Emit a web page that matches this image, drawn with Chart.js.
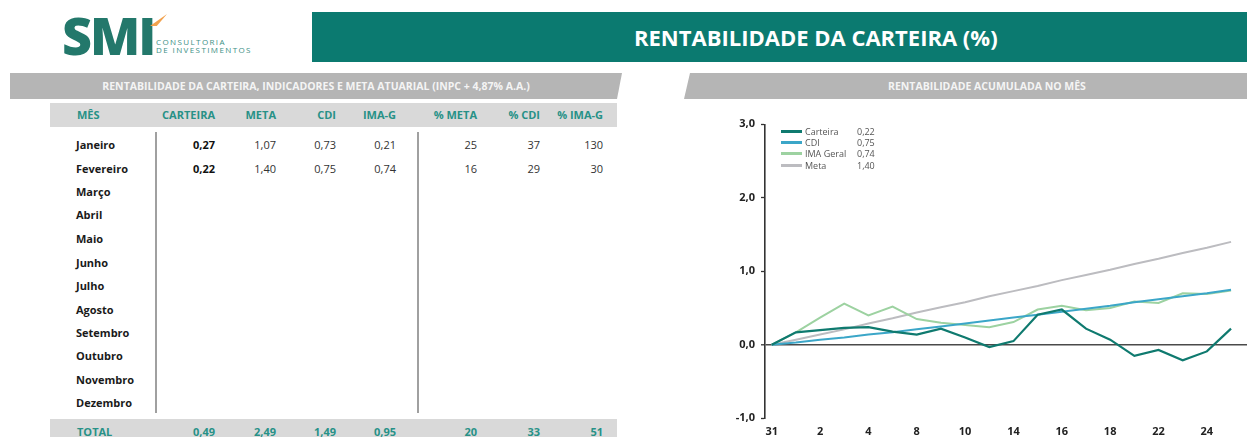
<!DOCTYPE html>
<html><head><meta charset="utf-8">
<script src="https://cdn.jsdelivr.net/npm/chart.js@4/dist/chart.umd.min.js"></script>
<style>
html,body{margin:0;padding:0;width:1247px;height:437px;overflow:hidden;background:#fff;font-family:"Open Sans",sans-serif;}
.a{position:absolute;white-space:nowrap;}
.band{background:#b5b5b5;color:#f4f4f4;font-weight:700;font-size:10.5px;}
.th{color:#279187;font-weight:700;font-size:11px;line-height:14px;}
.mo{color:#1a1a1a;font-weight:700;font-size:11px;line-height:14px;}
.v{color:#333;font-size:11px;line-height:14px;text-align:right;}
.tot{color:#279187;font-weight:700;font-size:11px;line-height:14px;}
.lg{font-size:9px;color:#555;line-height:11px;}
</style></head><body>
<!-- logo -->
<div class="a" style="left:62px;top:9px;font-size:52px;line-height:52px;font-weight:800;color:#23786b;letter-spacing:-2px;">SMI</div>
<div class="a" style="left:150px;top:14px;width:17px;height:12px;background:#f2a24e;clip-path:polygon(0 100%,100% 0,40% 100%);"></div>
<div class="a" style="left:156px;top:37px;font-size:8px;line-height:10px;color:#3d8f86;letter-spacing:1.4px;">CONSULTORIA</div>
<div class="a" style="left:156px;top:45px;font-size:8px;line-height:10px;color:#3d8f86;letter-spacing:1.4px;">DE INVESTIMENTOS</div>
<!-- title bar -->
<div class="a" style="left:312px;top:12px;width:935px;height:50px;background:#0b7a70;"></div>
<div class="a" style="left:634px;top:21px;font-size:22px;line-height:32px;font-weight:700;color:#fff;">RENTABILIDADE DA CARTEIRA (%)</div>
<!-- section bands -->
<div class="a band" style="left:10px;top:73px;width:612px;height:26px;clip-path:polygon(0 0,100% 0,calc(100% - 5px) 100%,0 100%);"></div>
<div class="a band" style="left:10px;top:73px;width:612px;line-height:26px;text-align:center;background:none;">RENTABILIDADE DA CARTEIRA, INDICADORES E META ATUARIAL (INPC + 4,87% A.A.)</div>
<div class="a band" style="left:684px;top:73px;width:563px;height:26px;clip-path:polygon(6px 0,100% 0,100% 100%,0 100%);"></div>
<div class="a band" style="left:888px;top:73px;line-height:26px;background:none;">RENTABILIDADE ACUMULADA NO MÊS</div>
<!-- table -->
<div class="a" style="left:50px;top:103px;width:567px;height:24px;background:#d9d9d9;"></div>
<div class="a" style="left:50px;top:419px;width:567px;height:22px;background:#d9d9d9;"></div>
<div class="a" style="left:155px;top:132px;width:1.5px;height:281px;background:#a0a0a0;"></div>
<div class="a" style="left:417px;top:132px;width:1.5px;height:281px;background:#a0a0a0;"></div>
<div id="tbl"></div>
<!-- chart -->
<div class="a" style="left:720px;top:100px;width:527px;height:337px;">
<canvas id="c" width="527" height="337" style="width:527px;height:337px;"></canvas>
</div>
<div id="leg"></div>
<script>
// ---- table data ----
const months = ['Janeiro','Fevereiro','Março','Abril','Maio','Junho','Julho','Agosto','Setembro','Outubro','Novembro','Dezembro'];
const colHeaders = ['CARTEIRA','META','CDI','IMA-G','% META','% CDI','% IMA-G'];
const tCarteira = [0.27, 0.22];
const tMeta = [1.07, 1.40];
const tCdi = [0.73, 0.75];
const tImaG = [0.21, 0.74];
const tPctMeta = [25, 16];
const tPctCdi = [37, 29];
const tPctImaG = [130, 30];
const totals = [0.49, 2.49, 1.49, 0.95, 20, 33, 51];

// ---- chart data ----
const days = ['31','1','2','3','4','7','8','9','10','11','14','15','16','17','18','21','22','23','24','25'];
const carteiraAcum = [0, 0.17, 0.20, 0.23, 0.24, 0.18, 0.14, 0.22, 0.10, -0.03, 0.05, 0.41, 0.48, 0.22, 0.07, -0.15, -0.07, -0.21, -0.09, 0.22];
const cdiAcum = [0, 0.03, 0.07, 0.10, 0.14, 0.17, 0.21, 0.25, 0.29, 0.33, 0.37, 0.41, 0.45, 0.49, 0.53, 0.58, 0.62, 0.66, 0.70, 0.75];
const imaAcum = [0, 0.17, 0.37, 0.56, 0.40, 0.52, 0.35, 0.30, 0.27, 0.24, 0.31, 0.48, 0.53, 0.47, 0.50, 0.59, 0.57, 0.70, 0.69, 0.74];
const metaAcum = [0, 0.07, 0.14, 0.21, 0.29, 0.36, 0.44, 0.51, 0.58, 0.66, 0.73, 0.80, 0.88, 0.95, 1.02, 1.10, 1.17, 1.25, 1.32, 1.40];
const seriesNames = ['Carteira','CDI','IMA Geral','Meta'];

// ---- build table ----
const fmt2 = v => v.toFixed(2).replace('.', ',');
const colRight = [215, 276, 336, 396, 477, 540, 603];
const rowY = [145,169,192,215,239,263,286,310,333,356,380,403];
let h = '';
function cell(cls, x, y, txt, right, extra){
  if (right) return `<div class="a ${cls}" style="right:${1247-x}px;top:${y-7}px;${extra||''}">${txt}</div>`;
  return `<div class="a ${cls}" style="left:${x}px;top:${y-7}px;${extra||''}">${txt}</div>`;
}
h += cell('th', 77, 115, 'MÊS');
colHeaders.forEach((t,i)=>{ h += cell('th', colRight[i], 115, t, true); });
months.forEach((m,r)=>{
  h += cell('mo', 76, rowY[r], m);
  if (r < tCarteira.length) {
    const vals = [fmt2(tCarteira[r]), fmt2(tMeta[r]), fmt2(tCdi[r]), fmt2(tImaG[r]), tPctMeta[r], tPctCdi[r], tPctImaG[r]];
    vals.forEach((v,i)=>{ h += cell('v', colRight[i], rowY[r], v, true, i===0?'font-weight:700;color:#111;':''); });
  }
});
h += cell('tot', 77, 432, 'TOTAL');
totals.forEach((v,i)=>{ h += cell('tot', colRight[i], 432, i<4?fmt2(v):String(v), true); });
document.getElementById('tbl').innerHTML = h;

// ---- chart ----
const colors = ['#0f7a6f','#3ba6c8','#9dd2a1','#bcbcc0'];
const widths = [2.2, 2, 2, 2];
const allSeries = [carteiraAcum, cdiAcum, imaAcum, metaAcum];

// legend built from series
let lg = '';
const legY = [131, 142.3, 153.6, 165];
seriesNames.forEach((n,i)=>{
  const s = allSeries[i];
  lg += `<div class="a" style="left:781px;top:${legY[i]-1.5}px;width:21px;height:3px;background:${colors[i]};"></div>`;
  lg += `<div class="a lg" style="left:805px;top:${legY[i]-5.5}px;">${n}</div>`;
  lg += `<div class="a lg" style="left:857px;top:${legY[i]-5.5}px;">${fmt2(s[s.length-1])}</div>`;
});
document.getElementById('leg').innerHTML = lg;

new Chart(document.getElementById('c'), {
  type: 'line',
  data: {
    datasets: seriesNames.map((n,i)=>({
      label: n,
      data: allSeries[i].map((v,k)=>({x:k, y:v})),
      borderColor: colors[i],
      backgroundColor: colors[i],
      borderWidth: widths[i],
      pointRadius: 0,
      tension: 0,
      fill: false
    }))
  },
  options: {
    responsive: false,
    animation: false,
    layout: { padding: { top: 24.3, left: 0, right: 0, bottom: 0 } },
    plugins: { legend: { display: false }, tooltip: { enabled: false } },
    scales: {
      x: {
        type: 'linear',
        min: -0.277, max: 19.66,
        afterBuildTicks: s => { s.ticks = days.map((d,i)=>({value:i})).filter((t,i)=>i%2===0); },
        afterFit: s => { s.height = 18.7; },
        ticks: { autoSkip: false, maxRotation: 0, padding: 7, color: '#222',
          font: { family: 'Open Sans', size: 11, weight: 'bold' },
          callback: v => days[v] },
        grid: { display: false, drawTicks: false },
        border: { display: false }
      },
      y: {
        min: -1, max: 3,
        afterFit: s => { s.width = 45; },
        ticks: { stepSize: 1, padding: 6, color: '#222',
          font: { family: 'Open Sans', size: 11, weight: 'bold' },
          callback: v => v.toFixed(1).replace('.', ',') },
        grid: {
          drawOnChartArea: true, drawTicks: true, tickLength: 4,
          color: c => (c.tick && c.tick.value === 0) ? '#4a4a4a' : 'rgba(0,0,0,0)',
          lineWidth: c => (c.tick && c.tick.value === 0) ? 1.6 : 1,
          tickColor: '#333', tickWidth: 1.3
        },
        border: { display: true, color: '#333', width: 1.6 }
      }
    }
  }
});
</script>
</body></html>
